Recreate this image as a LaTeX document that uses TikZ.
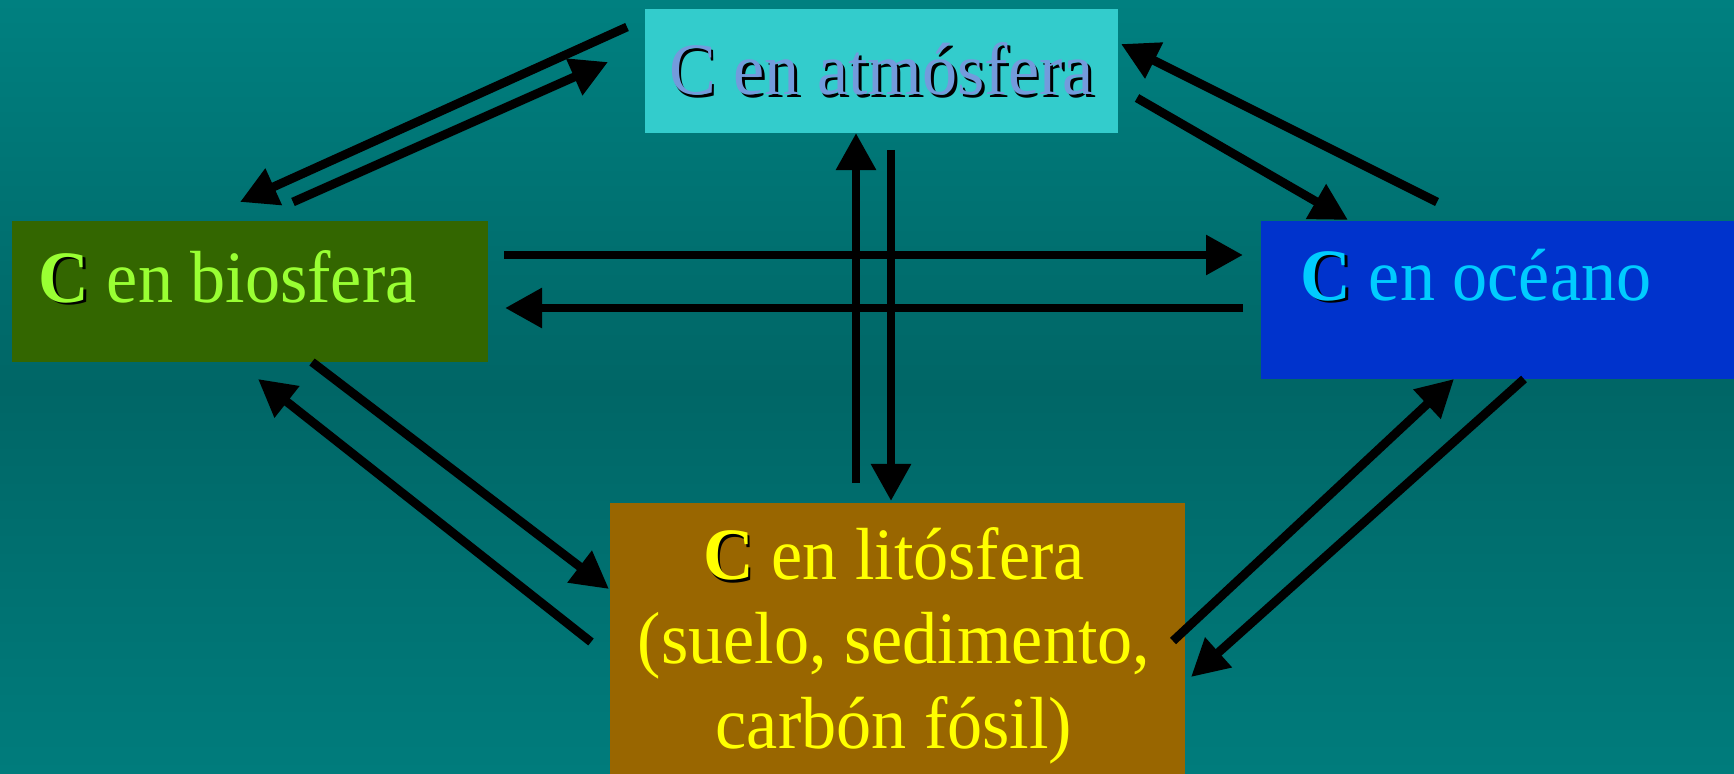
\documentclass[tikz,border=0pt]{standalone}
\usepackage{fontspec}
\setmainfont{Liberation Serif}[FakeStretch=0.95]
\usepackage{xcolor}
\usepackage{tikz}
\usetikzlibrary{arrows.meta,positioning,calc}

\definecolor{bgtop}{RGB}{0,128,128}
\definecolor{bgmid}{RGB}{0,102,102}
\definecolor{bgbot}{RGB}{0,124,124}
\definecolor{atmfill}{RGB}{51,204,204}
\definecolor{atmtext}{RGB}{115,155,220}
\definecolor{biofill}{RGB}{51,102,0}
\definecolor{biotext}{RGB}{153,255,51}
\definecolor{ocefill}{RGB}{0,51,204}
\definecolor{ocetext}{RGB}{0,204,255}
\definecolor{litfill}{RGB}{153,102,0}
\definecolor{littext}{RGB}{255,255,0}

\newcommand{\shadowed}[1]{\leavevmode\rlap{\hspace{0.8pt}\raisebox{-0.8pt}{\color{black}#1}}#1}

\tikzset{
  reservoir/.style={rectangle, inner sep=0pt, anchor=north west},
  flux/.style={line width=2.5pt, -{Triangle[length=0.37cm,width=0.38cm]}},
  bigtext/.style={font=\fontsize{21pt}{24pt}\selectfont, inner sep=0pt}
}

\begin{document}
\begin{tikzpicture}[x=0.01cm, y=-0.01cm]
    \useasboundingbox (0,0) rectangle (1734,773);
    \shade[top color=bgtop, bottom color=bgbot, middle color=bgmid] (0,0) rectangle (1734,773);

    % Reservoirs
    \node[reservoir, fill=atmfill, minimum width=4.73cm, minimum height=1.24cm,
          bigtext, text=atmtext] (atm) at (644,8) {\shadowed{C en atmósfera}};
    \node[reservoir, fill=biofill, minimum width=4.76cm, minimum height=1.41cm] (bio) at (11,220) {};
    \node[reservoir, fill=ocefill, minimum width=4.74cm, minimum height=1.58cm] (oce) at (1260,220) {};
    \node[reservoir, fill=litfill, minimum width=5.75cm, minimum height=2.72cm] (lit) at (609,502) {};

    \node[bigtext, text=biotext, anchor=base west] (biotxt) at (38,302) {\shadowed{\textbf{C}} en biosfera};
    \node[bigtext, text=ocetext, anchor=base west] (ocetxt) at (1300,300) {\shadowed{\textbf{C}} en océano};
    \node[bigtext, text=littext, align=center, anchor=base] (littxt) at (894,748)
          {\shadowed{\textbf{C}} en litósfera\\(suelo, sedimento,\\carbón fósil)};

    % atm <-> bio
    \coordinate (ab1) at (627,27);   \coordinate (ab2) at (240,202);
    \coordinate (ba1) at (293,202);  \coordinate (ba2) at (608,62);
    % atm <-> oce
    \coordinate (ao1) at (1137,98);  \coordinate (ao2) at (1348,220);
    \coordinate (oa1) at (1437,202); \coordinate (oa2) at (1121,44);
    % bio <-> oce
    \coordinate (bo1) at (504,255);  \coordinate (bo2) at (1243,255);
    \coordinate (ob1) at (1243,308); \coordinate (ob2) at (505,308);
    % lit <-> atm
    \coordinate (la1) at (856,483);  \coordinate (la2) at (856,133);
    \coordinate (al1) at (891,150);  \coordinate (al2) at (891,501);
    % bio <-> lit
    \coordinate (bl1) at (312,362);  \coordinate (bl2) at (609,589);
    \coordinate (lb1) at (591,642);  \coordinate (lb2) at (258,379);
    % lit <-> oce
    \coordinate (lo1) at (1173,641); \coordinate (lo2) at (1454,379);
    \coordinate (ol1) at (1524,379); \coordinate (ol2) at (1191,677);

    \draw[flux] (ab1) -- (ab2);
    \draw[flux] (ba1) -- (ba2);
    \draw[flux] (ao1) -- (ao2);
    \draw[flux] (oa1) -- (oa2);
    \draw[flux] (bo1) -- (bo2);
    \draw[flux] (ob1) -- (ob2);
    \draw[flux] (la1) -- (la2);
    \draw[flux] (al1) -- (al2);
    \draw[flux] (bl1) -- (bl2);
    \draw[flux] (lb1) -- (lb2);
    \draw[flux] (lo1) -- (lo2);
    \draw[flux] (ol1) -- (ol2);
\end{tikzpicture}
\end{document}
